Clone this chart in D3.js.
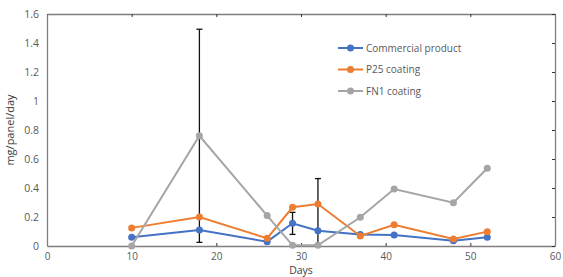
<!DOCTYPE html>
<html>
<head>
<meta charset="utf-8">
<script src="https://cdn.jsdelivr.net/npm/d3@7"></script>
<style>
  body { margin: 0; background: #fff; }
  text { font-family: "Open Sans", "Liberation Sans", sans-serif; }
</style>
</head>
<body>
<div id="chart"></div>
<script>
// sample days
let days = [10, 18, 26, 29, 32, 37, 41, 48, 52];
let seriesNames = ["Commercial product", "P25 coating", "FN1 coating"];
let commercial = [0.06, 0.11, 0.03, 0.157, 0.105, 0.08, 0.076, 0.037, 0.06];
let p25 = [0.125, 0.2, 0.053, 0.267, 0.29, 0.069, 0.147, 0.048, 0.099];
let fn1 = [0.0, 0.76, 0.21, 0.005, 0.005, 0.198, 0.393, 0.299, 0.536];
// error bars: [day, low, high]
let errorBars = [[18, 0.025, 1.495], [29, 0.08, 0.232], [32, 0.005, 0.465]];
let xTicks = [0, 10, 20, 30, 40, 50, 60];
let yTicks = [0, 0.2, 0.4, 0.6, 0.8, 1, 1.2, 1.4, 1.6];

let W = 563, H = 277;
let margin = {top: 14, right: 8, bottom: 31, left: 47};
let width = W - margin.left - margin.right;
let height = H - margin.top - margin.bottom;

let svg = d3.select("#chart").append("svg")
    .attr("width", W)
    .attr("height", H)
  .append("g")
    .attr("transform", "translate(" + margin.left + "," + margin.top + ")");

let x = d3.scaleLinear().domain([0, 60]).range([0, width]);
let y = d3.scaleLinear().domain([0, 1.6]).range([height, 0]);

let color = d3.scaleOrdinal()
    .domain(seriesNames)
    .range(["#4472C4", "#ED7D31", "#A5A5A5"]);

let axisColor = "#7f7f7f";
let labelColor = "#595959";

// bottom axis, ticks pointing inward
svg.append("g")
    .attr("transform", "translate(0," + height + ")")
    .call(d3.axisBottom(x).tickValues(xTicks).tickSizeInner(-3).tickSizeOuter(0).tickPadding(7))
    .call(g => g.select(".domain").attr("stroke", axisColor).attr("stroke-width", 1.3))
    .call(g => g.selectAll(".tick line").attr("stroke", "#333"))
    .call(g => g.selectAll("text").attr("fill", labelColor).style("font-size", "10px"));

// top axis (mirror)
svg.append("g")
    .call(d3.axisTop(x).tickValues(xTicks).tickSizeInner(-3).tickSizeOuter(0).tickFormat(""))
    .call(g => g.select(".domain").attr("stroke", axisColor).attr("stroke-width", 1.3))
    .call(g => g.selectAll(".tick line").attr("stroke", "#333"));

// left axis
svg.append("g")
    .call(d3.axisLeft(y).tickValues(yTicks).tickSize(0).tickPadding(8).tickFormat(d => String(+d.toFixed(1))))
    .call(g => g.select(".domain").attr("stroke", axisColor).attr("stroke-width", 1.3))
    .call(g => g.selectAll("text").attr("fill", labelColor).style("font-size", "10.5px"));

// right axis (mirror)
svg.append("g")
    .attr("transform", "translate(" + width + ",0)")
    .call(d3.axisRight(y).tickValues(yTicks).tickSizeInner(-3).tickSizeOuter(0).tickFormat(""))
    .call(g => g.select(".domain").attr("stroke", axisColor).attr("stroke-width", 1.3))
    .call(g => g.selectAll(".tick line").attr("stroke", "#333"));

// axis titles
svg.append("text")
    .attr("x", x(30))
    .attr("y", height + 28)
    .attr("text-anchor", "middle")
    .attr("fill", "#404040")
    .style("font-size", "10.5px")
    .text("Days");

svg.append("text")
    .attr("transform", "translate(" + (-33) + "," + (height / 2) + ") rotate(-90)")
    .attr("text-anchor", "middle")
    .attr("fill", "#404040")
    .style("font-size", "11px")
    .text("mg/panel/day");

// error bars
let eb = svg.append("g").selectAll("g")
    .data(errorBars)
    .enter().append("g");
eb.append("line")
    .attr("x1", d => x(d[0])).attr("x2", d => x(d[0]))
    .attr("y1", d => y(d[1])).attr("y2", d => y(d[2]))
    .attr("stroke", "#111").attr("stroke-width", 1.3);
eb.selectAll(".cap")
    .data(d => [[d[0], d[1]], [d[0], d[2]]])
    .enter().append("line")
    .attr("class", "cap")
    .attr("x1", d => x(d[0]) - 3).attr("x2", d => x(d[0]) + 3)
    .attr("y1", d => y(d[1])).attr("y2", d => y(d[1]))
    .attr("stroke", "#111").attr("stroke-width", 1.3);

// series
let series = [
  {name: seriesNames[0], values: commercial},
  {name: seriesNames[1], values: p25},
  {name: seriesNames[2], values: fn1}
];

let line = d3.line()
    .x((d, i) => x(days[i]))
    .y(d => y(d));

let sg = svg.append("g").selectAll("g")
    .data(series)
    .enter().append("g");

sg.append("path")
    .attr("d", d => line(d.values))
    .attr("fill", "none")
    .attr("stroke", d => color(d.name))
    .attr("stroke-width", 2);

sg.selectAll("circle")
    .data(d => d.values.map((v, i) => ({v: v, day: days[i], name: d.name})))
    .enter().append("circle")
    .attr("cx", d => x(d.day))
    .attr("cy", d => y(d.v))
    .attr("r", 3.5)
    .attr("fill", d => color(d.name));

// legend
let legend = svg.selectAll(".legend")
    .data(seriesNames)
    .enter().append("g")
    .attr("class", "legend")
    .attr("transform", (d, i) => "translate(" + (338 - margin.left) + "," + (48 - margin.top + i * 21.5) + ")");

legend.append("line")
    .attr("x1", 0).attr("x2", 25)
    .attr("stroke", d => color(d))
    .attr("stroke-width", 2);
legend.append("circle")
    .attr("cx", 12.5).attr("r", 3.5)
    .attr("fill", d => color(d));
legend.append("text")
    .attr("x", 28)
    .attr("dy", "0.35em")
    .attr("fill", labelColor)
    .style("font-size", "10px")
    .text(d => d);
</script>
</body>
</html>
